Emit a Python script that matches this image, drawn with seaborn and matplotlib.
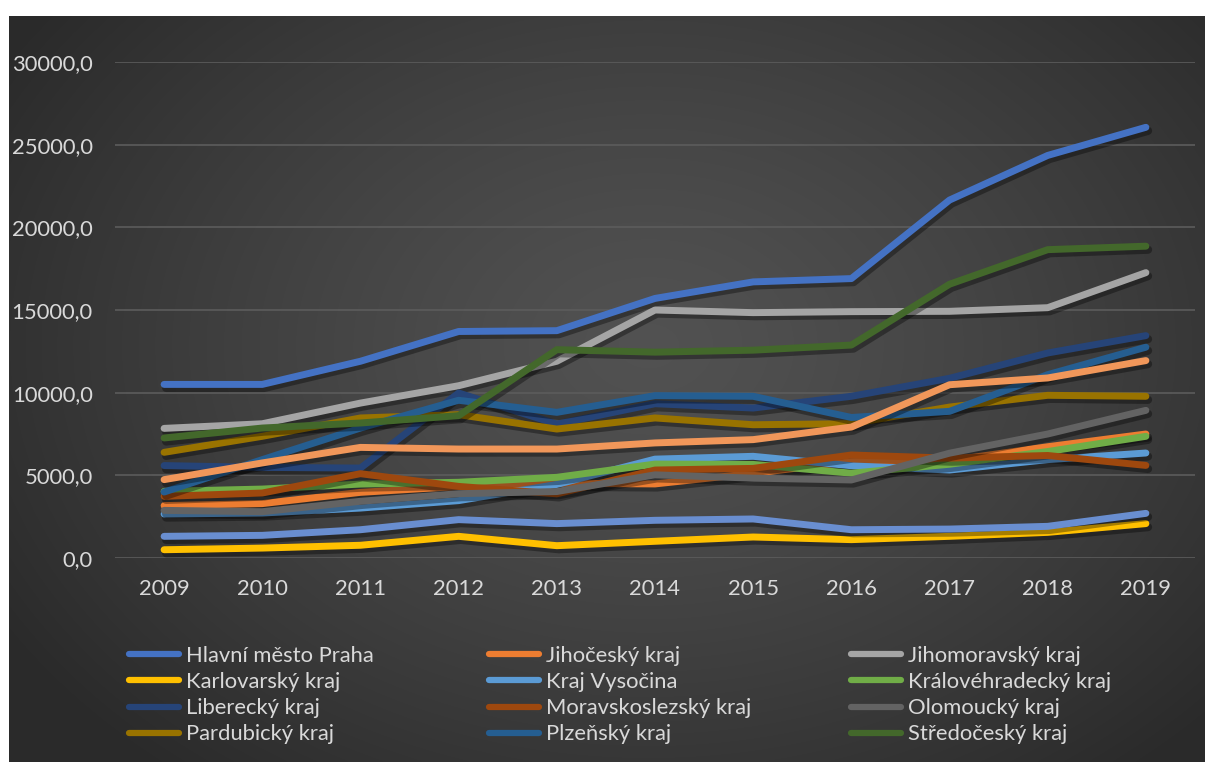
import numpy as np
import pandas as pd
import matplotlib
matplotlib.use("Agg")
import matplotlib.pyplot as plt
import matplotlib.patheffects as pe
from matplotlib.lines import Line2D
import seaborn as sns

years = [2009, 2010, 2011, 2012, 2013, 2014, 2015, 2016, 2017, 2018, 2019]

regions = [
    "Hlavní město Praha", "Jihočeský kraj", "Jihomoravský kraj",
    "Karlovarský kraj", "Kraj Vysočina", "Královéhradecký kraj",
    "Liberecký kraj", "Moravskoslezský kraj", "Olomoucký kraj",
    "Pardubický kraj", "Plzeňský kraj", "Středočeský kraj",
    "Ústecký kraj", "Zlínský kraj",
]

praha = [10500, 10500, 11900, 13700, 13750, 15700, 16700, 16900, 21650, 24350, 26050]
jihocesky = [3170, 3290, 3970, 4330, 4520, 4480, 5120, 5830, 5890, 6730, 7500]
jihomoravsky = [7840, 8120, 9370, 10420, 11900, 15000, 14840, 14900, 14920, 15140, 17260]
karlovarsky = [500, 600, 770, 1310, 745, 1010, 1270, 1110, 1310, 1550, 2080]
vysocina = [2660, 2720, 3020, 3470, 4450, 5980, 6150, 5580, 5320, 5950, 6350]
kralovehradecky = [4030, 4170, 4470, 4580, 4880, 5680, 5660, 5130, 5670, 6440, 7360]
liberecky = [5590, 5480, 5440, 9980, 8100, 9330, 9070, 9780, 10870, 12400, 13450]
moravskoslezsky = [3730, 3930, 5100, 4330, 3880, 5320, 5420, 6230, 6040, 6200, 5600]
olomoucky = [2880, 2800, 3430, 3890, 4020, 5030, 4830, 4720, 6340, 7500, 8930]
pardubicky = [6390, 7360, 8470, 8670, 7800, 8470, 8060, 8125, 9130, 9840, 9780]
plzensky = [3990, 5950, 7860, 9540, 8810, 9820, 9780, 8500, 8870, 11090, 12750]
stredocesky = [7260, 7860, 8165, 8610, 12600, 12450, 12570, 12880, 16560, 18650, 18860]
ustecky = [1310, 1370, 1710, 2320, 2080, 2280, 2360, 1710, 1750, 1915, 2700]
zlinsky = [4740, 5750, 6690, 6590, 6590, 6960, 7160, 7920, 10480, 10890, 11940]

series = [praha, jihocesky, jihomoravsky, karlovarsky, vysocina, kralovehradecky,
          liberecky, moravskoslezsky, olomoucky, pardubicky, plzensky, stredocesky,
          ustecky, zlinsky]

colors = ["#4472C4", "#ED7D31", "#A5A5A5", "#FFC000", "#5B9BD5", "#70AD47",
          "#264478", "#9E480E", "#636363", "#997300", "#255E91", "#43682B",
          "#698ED0", "#F1975A"]

y_ticks = [0, 5000, 10000, 15000, 20000, 25000, 30000]

df = pd.DataFrame({
    "rok": np.tile(years, len(regions)),
    "kraj": np.repeat(regions, len(years)),
    "hodnota": np.concatenate(series),
})
palette = dict(zip(regions, colors))

W, H = 1209, 765
FS = 15.8
TEXT = "#d9d9d9"
fig = plt.figure(figsize=(W / 100, H / 100), dpi=100, facecolor="white")
plt.rcParams["font.family"] = ["Lato", "DejaVu Sans"]

# dark radial-gradient panel
bg = fig.add_axes([9 / W, 3 / H, 1196 / W, 746 / H], zorder=-5)
gx, gy = np.meshgrid(np.linspace(0, 1196, 600), np.linspace(0, 746, 380))
r = np.sqrt(((gx - 640) / 760) ** 2 + ((gy - 330) / 560) ** 2)
lum = 0.32 - 0.155 * np.clip(r, 0, 1) ** 1.3
bg.imshow(np.dstack([lum, lum, lum]), extent=[0, 1, 0, 1], aspect="auto",
          origin="upper", interpolation="bilinear")
bg.set_axis_off()

ax = fig.add_axes([115 / W, 1 - 558 / H, 1080 / W, 496 / H])
ax.set_facecolor("none")

sns.lineplot(data=df, x="rok", y="hodnota", hue="kraj", hue_order=regions,
             palette=palette, linewidth=5.0, legend=False, ax=ax,
             solid_capstyle="round", solid_joinstyle="round")

for ln in ax.lines:
    ln.set_path_effects([pe.SimpleLineShadow(offset=(1.5, -2.5), shadow_color="black",
                                             alpha=0.35, linewidth=6),
                         pe.Normal()])

ax.set_xlim(years[0] - 0.5, years[-1] + 0.5)
ax.set_ylim(0, 30000)
ax.set_xticks(years)
ax.set_xticklabels([str(y) for y in years])
ax.set_yticks(y_ticks)
ax.set_yticklabels([f"{v:.1f}".replace(".", ",") for v in y_ticks])
ax.grid(axis="y", color="#5c5c5c", linewidth=1.2)
ax.grid(axis="x", visible=False)
ax.set_axisbelow(True)
for s in ax.spines.values():
    s.set_visible(False)
ax.tick_params(axis="both", length=0, colors=TEXT, labelsize=FS)
ax.tick_params(axis="y", pad=16)
ax.tick_params(axis="x", pad=15)
ax.set_xlabel("")
ax.set_ylabel("")

# legend: three columns of four entries, row-major like the series order
shown = regions[:12]
col_x = [129, 489, 851]
for c in range(3):
    names = [shown[r * 3 + c] for r in range(4)]
    handles = [Line2D([], [], color=palette[n], linewidth=4.5, solid_capstyle="round")
               for n in names]
    fig.legend(handles, names, loc="upper left",
               bbox_to_anchor=(col_x[c] / W, 1 - 646 / H),
               frameon=False, fontsize=FS, handlelength=2.3,
               handletextpad=0.3, labelspacing=0.28, borderpad=0,
               borderaxespad=0, labelcolor=TEXT)

fig.savefig("out.png", dpi=100, facecolor="white")
